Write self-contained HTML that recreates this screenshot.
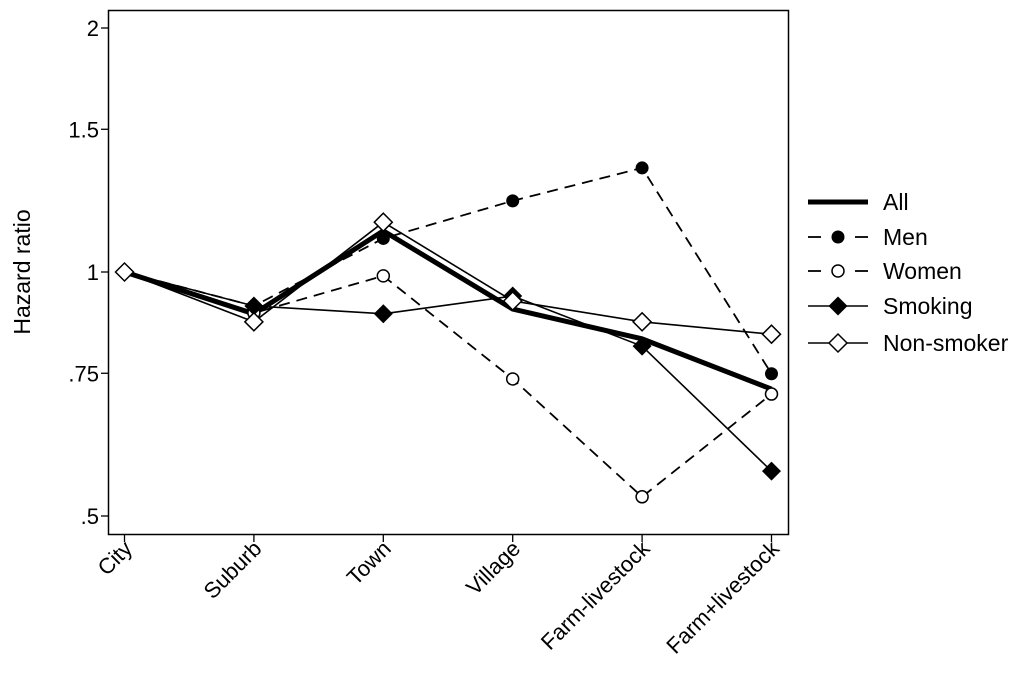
<!DOCTYPE html>
<html><head><meta charset="utf-8"><style>
html,body{margin:0;padding:0;background:#fff}
svg{display:block;font-family:"Liberation Sans",sans-serif}
</style></head><body>
<svg id="chart" width="1024" height="682" viewBox="0 0 1024 682" xmlns="http://www.w3.org/2000/svg">
<rect x="108.5" y="10.5" width="680" height="524" fill="none" stroke="#000" stroke-width="1.5"/>
<text transform="translate(30,272) rotate(-90)" text-anchor="middle" font-size="23">Hazard ratio</text>
<g id="yaxis"></g>
<g id="xaxis"></g>
<g id="series"></g>
<g id="legend"></g>
</svg>
<script>
const categories = ["City","Suburb","Town","Village","Farm-livestock","Farm+livestock"];
const yTicks = [0.5, 0.75, 1, 1.5, 2];
const yTickLabels = [".5", ".75", "1", "1.5", "2"];
const seriesNames = ["All","Men","Women","Smoking","Non-smoker"];
const allValues = [1, 0.888, 1.124, 0.90, 0.827, 0.717];
const menValues = [1, 0.908, 1.10, 1.224, 1.344, 0.749];
const womenValues = [1, 0.89, 0.989, 0.738, 0.528, 0.707];
const smokingValues = [1, 0.908, 0.888, 0.934, 0.81, 0.568];
const nonSmokerValues = [1, 0.868, 1.152, 0.921, 0.868, 0.838];

const NS = "http://www.w3.org/2000/svg";
function yScale(v){ return 272 - Math.log(v) * 352; }
function xScale(i){ return 124.5 + i * (771.5 - 124.5) / (categories.length - 1); }
function mk(tag, attrs, parent){ const e = document.createElementNS(NS, tag); for (const k in attrs) e.setAttribute(k, attrs[k]); parent.appendChild(e); return e; }

const yaxis = document.getElementById('yaxis');
yTicks.forEach((t, i) => {
  const y = yScale(t);
  const tk = mk('line', {x1:101, x2:108.5, y1:y, y2:y, stroke:'#000', 'stroke-width':1.3}, yaxis);
  
  
  const tx = mk('text', {x:99, y:y+8, 'text-anchor':'end', 'font-size':22}, yaxis);
  tx.textContent = yTickLabels[i];
  
  
});
const xaxis = document.getElementById('xaxis');
categories.forEach((c, i) => {
  const x = xScale(i);
  const tk = mk('line', {x1:x, x2:x, y1:534.5, y2:542, stroke:'#000', 'stroke-width':1.3}, xaxis);
  
  
  const tx = mk('text', {x:0, y:0, 'text-anchor':'end', 'font-size':22, transform:'translate(' + (x+9) + ',550) rotate(-45)'}, xaxis);
  tx.textContent = c;
  
  
});

const styles = [
  {vals: allValues, w:5, dash:null, m:null},
  {vals: menValues, w:1.8, dash:'11,7', m:'dot-filled'},
  {vals: womenValues, w:1.8, dash:'11,7', m:'dot-open'},
  {vals: smokingValues, w:1.6, dash:null, m:'diamond-filled'},
  {vals: nonSmokerValues, w:1.6, dash:null, m:'diamond-open'}
];
function marker(type, x, y, g){
  let e;
  if (type === 'dot-filled') e = mk('circle', {cx:x, cy:y, r:6.5, fill:'#000'}, g);
  else if (type === 'dot-open') e = mk('circle', {cx:x, cy:y, r:6, fill:'#fff', stroke:'#000', 'stroke-width':1.5}, g);
  else if (type === 'diamond-filled') e = mk('polygon', {points:(x-9.5)+','+y+' '+x+','+(y-9.5)+' '+(x+9.5)+','+y+' '+x+','+(y+9.5), fill:'#000'}, g);
  else e = mk('polygon', {points:(x-9)+','+y+' '+x+','+(y-9)+' '+(x+9)+','+y+' '+x+','+(y+9), fill:'#fff', stroke:'#000', 'stroke-width':1.5}, g);
  return e;
}
const sg = document.getElementById('series');
styles.forEach((s, si) => {
  const g = mk('g', {}, sg);
  
  
  const pts = s.vals.map((v, i) => xScale(i) + ',' + yScale(v)).join(' ');
  const pl = mk('polyline', {points:pts, fill:'none', stroke:'#000', 'stroke-width':s.w, 'stroke-linejoin':'round'}, g);
  if (s.dash) pl.setAttribute('stroke-dasharray', s.dash);
  
  
  if (s.m) s.vals.forEach((v, i) => {
    const m = marker(s.m, xScale(i), yScale(v), g);
    
    
  });
});
const lg = document.getElementById('legend');
const legendY = [202, 237, 271, 306, 343];
styles.forEach((s, si) => {
  const y = legendY[si];
  const g = mk('g', {}, lg);
  
  
  if (s.dash) {
    mk('line', {x1:808, x2:821, y1:y, y2:y, stroke:'#000', 'stroke-width':s.w}, g);
    mk('line', {x1:855, x2:868, y1:y, y2:y, stroke:'#000', 'stroke-width':s.w}, g);
  } else {
    mk('line', {x1:808, x2:868, y1:y, y2:y, stroke:'#000', 'stroke-width':s.w}, g);
  }
  if (s.m) marker(s.m, 838, y, g);
  const t = mk('text', {x:883, y:y+8, 'font-size':23}, g);
  t.textContent = seriesNames[si];
});
</script>
</body></html>
